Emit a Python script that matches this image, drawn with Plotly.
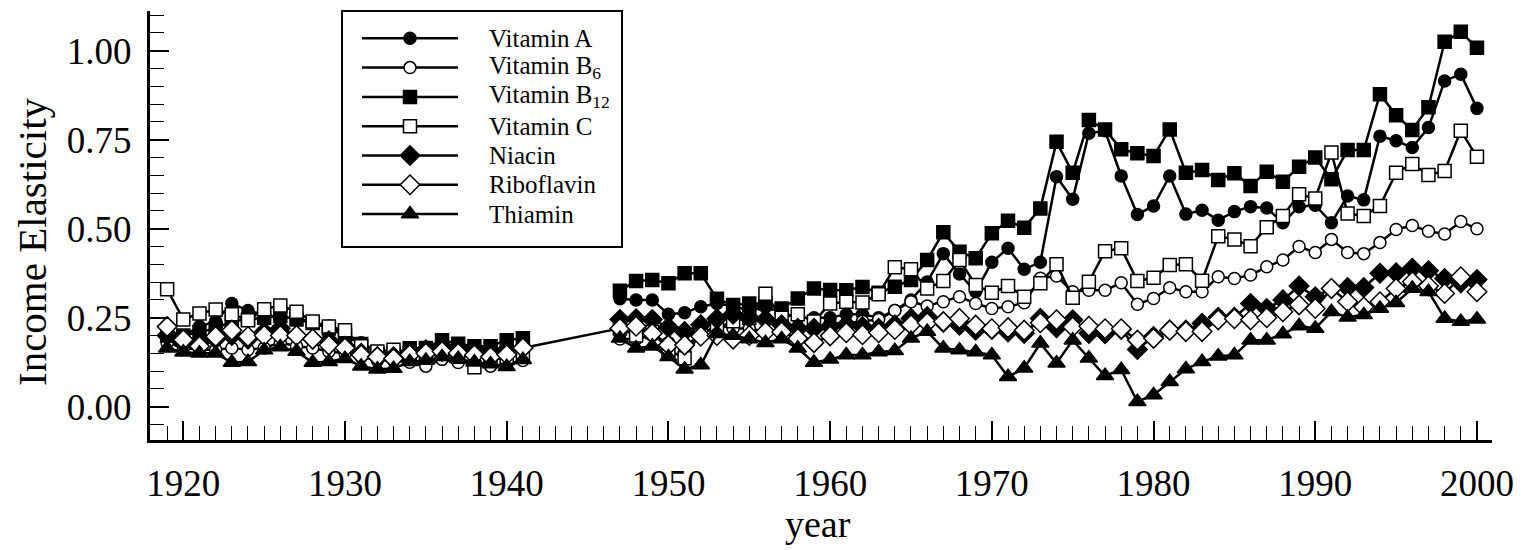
import plotly.graph_objects as go

# ---- data -------------------------------------------------------------
years_early = list(range(1919, 1942))
years_late = list(range(1947, 2001))

vitamin_a_early = [0.20, 0.20, 0.225, 0.24, 0.29, 0.27, 0.26, 0.25, 0.25, 0.235, 0.227, 0.20,
                   0.18, 0.155, 0.15, 0.155, 0.16, 0.175, 0.17, 0.16, 0.16, 0.165, 0.17]
vitamin_a_late = [0.303, 0.30, 0.30, 0.26, 0.264, 0.281, 0.29, 0.283, 0.27, 0.28, 0.265, 0.25,
                  0.25, 0.25, 0.26, 0.26, 0.25, 0.27, 0.30, 0.35, 0.43, 0.373, 0.323, 0.406,
                  0.445, 0.386, 0.406, 0.646, 0.583, 0.768, 0.775, 0.648, 0.54, 0.564, 0.648,
                  0.541, 0.552, 0.524, 0.548, 0.562, 0.558, 0.517, 0.562, 0.566, 0.517, 0.592,
                  0.581, 0.76, 0.747, 0.728, 0.784, 0.915, 0.934, 0.838]

vitamin_b6_early = [0.18, 0.165, 0.16, 0.16, 0.165, 0.16, 0.165, 0.18, 0.17, 0.165, 0.155, 0.15,
                    0.14, 0.13, 0.13, 0.125, 0.114, 0.133, 0.124, 0.125, 0.114, 0.12, 0.13]
vitamin_b6_late = [0.19, 0.19, 0.20, 0.18, 0.16, 0.20, 0.23, 0.22, 0.22, 0.21, 0.21, 0.22,
                   0.22, 0.234, 0.234, 0.24, 0.245, 0.27, 0.295, 0.283, 0.295, 0.309, 0.29, 0.276,
                   0.281, 0.292, 0.361, 0.367, 0.323, 0.327, 0.327, 0.348, 0.288, 0.304, 0.334,
                   0.323, 0.323, 0.365, 0.36, 0.37, 0.393, 0.412, 0.45, 0.433, 0.47, 0.433,
                   0.43, 0.461, 0.498, 0.509, 0.493, 0.485, 0.52, 0.50]

vitamin_b12_early = [0.20, 0.20, 0.21, 0.22, 0.24, 0.245, 0.25, 0.255, 0.245, 0.235, 0.22, 0.20,
                     0.176, 0.15, 0.15, 0.164, 0.165, 0.187, 0.177, 0.17, 0.17, 0.187, 0.192]
vitamin_b12_late = [0.326, 0.353, 0.356, 0.347, 0.375, 0.375, 0.303, 0.286, 0.29, 0.29, 0.276, 0.304,
                    0.332, 0.328, 0.327, 0.336, 0.32, 0.337, 0.356, 0.412, 0.49, 0.435, 0.417, 0.487,
                    0.522, 0.503, 0.557, 0.744, 0.657, 0.805, 0.779, 0.723, 0.712, 0.704, 0.779,
                    0.657, 0.665, 0.637, 0.656, 0.62, 0.66, 0.632, 0.674, 0.70, 0.639, 0.721,
                    0.721, 0.878, 0.819, 0.777, 0.841, 1.025, 1.053, 1.008]

vitamin_c_early = [0.33, 0.245, 0.262, 0.273, 0.26, 0.243, 0.274, 0.284, 0.267, 0.239, 0.225, 0.215,
                   0.17, 0.155, 0.16, 0.15, 0.14, 0.15, 0.14, 0.111, 0.13, 0.14, 0.15]
vitamin_c_late = [0.22, 0.20, 0.21, 0.16, 0.136, 0.21, 0.22, 0.24, 0.25, 0.317, 0.25, 0.26,
                  0.239, 0.29, 0.295, 0.293, 0.316, 0.392, 0.386, 0.332, 0.353, 0.412, 0.342, 0.32,
                  0.339, 0.309, 0.347, 0.40, 0.306, 0.351, 0.437, 0.445, 0.353, 0.362, 0.398,
                  0.40, 0.354, 0.479, 0.47, 0.451, 0.504, 0.536, 0.597, 0.585, 0.714, 0.543,
                  0.536, 0.564, 0.657, 0.682, 0.651, 0.662, 0.775, 0.702]

niacin_early = [0.20, 0.18, 0.18, 0.19, 0.20, 0.19, 0.21, 0.22, 0.20, 0.19, 0.185, 0.17,
                0.15, 0.14, 0.14, 0.15, 0.16, 0.17, 0.165, 0.16, 0.155, 0.16, 0.165]
niacin_late = [0.245, 0.247, 0.245, 0.223, 0.211, 0.23, 0.247, 0.26, 0.25, 0.245, 0.23, 0.22,
               0.22, 0.225, 0.23, 0.225, 0.22, 0.23, 0.248, 0.253, 0.237, 0.229, 0.215, 0.217,
               0.21, 0.206, 0.248, 0.222, 0.244, 0.206, 0.205, 0.217, 0.161, 0.197, 0.215,
               0.215, 0.234, 0.251, 0.251, 0.29, 0.276, 0.30, 0.339, 0.309, 0.332, 0.335,
               0.335, 0.375, 0.376, 0.389, 0.382, 0.36, 0.348, 0.357]

riboflavin_early = [0.225, 0.188, 0.17, 0.197, 0.215, 0.197, 0.20, 0.20, 0.20, 0.19, 0.173, 0.165,
                    0.145, 0.14, 0.135, 0.146, 0.15, 0.155, 0.15, 0.145, 0.14, 0.146, 0.165]
riboflavin_late = [0.22, 0.226, 0.206, 0.173, 0.173, 0.198, 0.20, 0.19, 0.20, 0.21, 0.21, 0.192,
                   0.18, 0.199, 0.208, 0.202, 0.208, 0.217, 0.23, 0.236, 0.239, 0.248, 0.229, 0.219,
                   0.222, 0.215, 0.236, 0.244, 0.224, 0.226, 0.219, 0.219, 0.187, 0.192, 0.215,
                   0.211, 0.211, 0.244, 0.247, 0.244, 0.25, 0.267, 0.286, 0.276, 0.332, 0.295,
                   0.28, 0.295, 0.332, 0.351, 0.339, 0.318, 0.365, 0.323]

thiamin_early = [0.164, 0.153, 0.15, 0.15, 0.124, 0.126, 0.159, 0.168, 0.155, 0.124, 0.126, 0.135,
                 0.114, 0.105, 0.107, 0.126, 0.13, 0.14, 0.135, 0.125, 0.12, 0.112, 0.132]
thiamin_late = [0.192, 0.164, 0.17, 0.14, 0.105, 0.117, 0.205, 0.20, 0.19, 0.18, 0.19, 0.164,
                0.124, 0.133, 0.145, 0.145, 0.154, 0.157, 0.192, 0.211, 0.164, 0.159, 0.154, 0.145,
                0.084, 0.108, 0.178, 0.122, 0.187, 0.136, 0.087, 0.104, 0.014, 0.033, 0.07,
                0.106, 0.126, 0.142, 0.145, 0.187, 0.187, 0.204, 0.227, 0.22, 0.267, 0.251,
                0.258, 0.276, 0.292, 0.332, 0.323, 0.248, 0.239, 0.246]

series_names = ["Vitamin A", "Vitamin B<sub>6</sub>", "Vitamin B<sub>12</sub>", "Vitamin C",
                "Niacin", "Riboflavin", "Thiamin"]
series_early = [vitamin_a_early, vitamin_b6_early, vitamin_b12_early, vitamin_c_early,
                niacin_early, riboflavin_early, thiamin_early]
series_late = [vitamin_a_late, vitamin_b6_late, vitamin_b12_late, vitamin_c_late,
               niacin_late, riboflavin_late, thiamin_late]
# only riboflavin is drawn as a continuous line across the war years
bridge_gap = [False, False, False, False, False, True, False]

x_ticks = list(range(1920, 2001, 10))
y_ticks = [0.0, 0.25, 0.50, 0.75, 1.00]

# ---- styling ----------------------------------------------------------
symbols = ["circle", "circle", "square", "square", "diamond", "diamond", "triangle-up"]
filled = [True, False, True, False, True, False, True]
sizes = [12, 12, 13, 13, 15, 15, 15]
FONT = "Liberation Serif, Times New Roman, serif"

W, H = 1531, 550
ML, MR, MT, MB = 150, 39, 11, 110
PX_L, PX_R, PX_T, PX_B = ML, W - MR, MT, H - MB


def paper_x(px):
    return (px - PX_L) / (PX_R - PX_L)


def paper_y(py):
    return (PX_B - py) / (PX_B - PX_T)


fig = go.Figure()

# ---- legend frame and sample lines (drawn under the data) -------------
leg_left, leg_right, leg_top, leg_bottom = 342, 622, 11, 247
row_y0, row_step = 38.3, 29.3
line_x0, line_x1, text_x = 362, 458, 487

fig.add_shape(type="rect", xref="paper", yref="paper",
              x0=paper_x(leg_left), x1=paper_x(leg_right),
              y0=paper_y(leg_bottom), y1=paper_y(leg_top),
              line=dict(color="black", width=2), fillcolor="white", layer="below")
for i in range(len(series_names)):
    yy = row_y0 + i * row_step
    fig.add_shape(type="line", xref="paper", yref="paper",
                  x0=paper_x(line_x0), x1=paper_x(line_x1), y0=paper_y(yy), y1=paper_y(yy),
                  line=dict(color="black", width=2.5), layer="below")

# ---- data traces -------------------------------------------------------
for name, e, l, sym, fill, sz, bridge in zip(series_names, series_early, series_late,
                                              symbols, filled, sizes, bridge_gap):
    xs = years_early + ([] if bridge else [None]) + years_late
    ys = e + ([] if bridge else [None]) + l
    fig.add_trace(go.Scatter(
        x=xs, y=ys, mode="lines+markers", name=name, showlegend=False,
        connectgaps=False,
        line=dict(color="black", width=2.5),
        marker=dict(symbol=sym, size=sz, color="black" if fill else "white",
                    line=dict(color="black", width=1.5)),
    ))

# legend symbols on an overlay axis scaled to plot-area pixels
for i, (name, sym, fill, sz) in enumerate(zip(series_names, symbols, filled, sizes)):
    yy = row_y0 + i * row_step
    fig.add_trace(go.Scatter(
        x=[(line_x0 + line_x1) / 2], y=[yy], xaxis="x2", yaxis="y2", mode="markers",
        showlegend=False, hoverinfo="skip",
        marker=dict(symbol=sym, size=sz, color="black" if fill else "white",
                    line=dict(color="black", width=1.5)),
    ))
    fig.add_annotation(x=paper_x(text_x), y=paper_y(yy), xref="paper", yref="paper",
                       text=name, showarrow=False, xanchor="left", yanchor="middle",
                       font=dict(family=FONT, size=25, color="black"))

# axis titles
fig.add_annotation(x=paper_x(32), y=paper_y(242), xref="paper", yref="paper",
                   text="Income Elasticity", textangle=-90, showarrow=False,
                   xanchor="center", yanchor="middle",
                   font=dict(family=FONT, size=41, color="black"))
fig.add_annotation(x=paper_x(818), y=paper_y(524), xref="paper", yref="paper",
                   text="year", showarrow=False, xanchor="center", yanchor="middle",
                   font=dict(family=FONT, size=38, color="black"))

fig.update_layout(
    width=W, height=H, autosize=False,
    margin=dict(l=ML, r=MR, t=MT, b=MB, pad=0),
    paper_bgcolor="white", plot_bgcolor="rgba(0,0,0,0)",
    font=dict(family=FONT, size=37, color="black"),
    showlegend=False,
    xaxis=dict(
        range=[1917.94, 2000.93], tickvals=x_ticks, ticks="inside", ticklen=19, tickwidth=2,
        tickcolor="black", showline=True, linewidth=3, linecolor="black", showgrid=False,
        zeroline=False, ticklabelstandoff=9,
        minor=dict(dtick=1, tick0=1920, ticks="inside", ticklen=14, tickwidth=1,
                   tickcolor="black", showgrid=False),
    ),
    yaxis=dict(
        range=[-0.0935, 1.1115], tickvals=y_ticks, tickformat=".2f", ticks="inside",
        ticklen=19, tickwidth=2, tickcolor="black", showline=True, linewidth=3,
        linecolor="black", showgrid=False, zeroline=False, ticklabelstandoff=8,
        minor=dict(dtick=0.05, tick0=0, ticks="inside", ticklen=14, tickwidth=1,
                   tickcolor="black", showgrid=False),
    ),
    xaxis2=dict(range=[PX_L, PX_R], domain=[0, 1], overlaying="x", visible=False,
                fixedrange=True),
    yaxis2=dict(range=[PX_B, PX_T], domain=[0, 1], overlaying="y", visible=False,
                fixedrange=True),
)

fig.write_html("out.html")
